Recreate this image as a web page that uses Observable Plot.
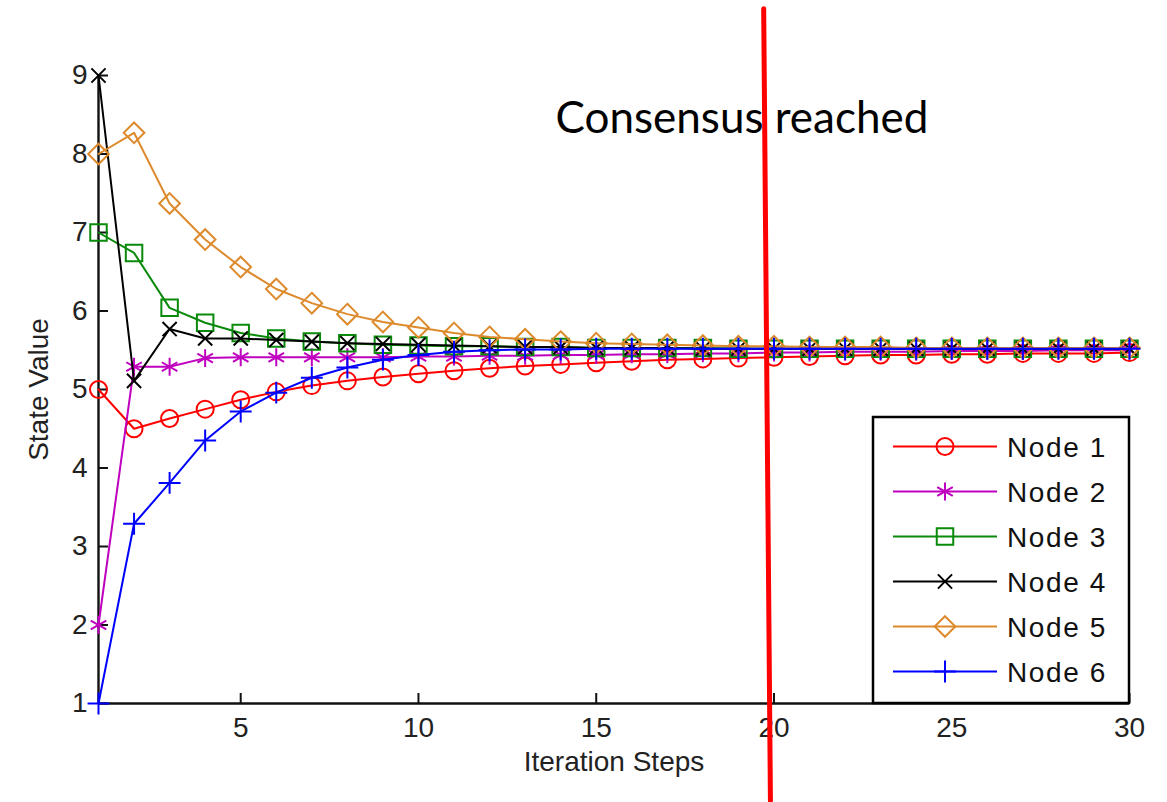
<!DOCTYPE html>
<html>
<head>
<meta charset="utf-8">
<script src="https://cdn.jsdelivr.net/npm/d3@7"></script>
<script src="https://cdn.jsdelivr.net/npm/@observablehq/plot@0.6"></script>
<style>
html, body { margin: 0; padding: 0; background: #fff; }
#wrap { position: relative; width: 1167px; height: 802px; overflow: hidden; }
</style>
</head>
<body>
<div id="wrap"></div>
<script>
// ---------------- data ----------------
const iterations = [1,2,3,4,5,6,7,8,9,10,11,12,13,14,15,16,17,18,19,20,21,22,23,24,25,26,27,28,29,30];
const node1 = [5.00,4.50,4.63,4.75,4.87,4.97,5.05,5.11,5.16,5.20,5.24,5.27,5.30,5.32,5.34,5.36,5.38,5.39,5.40,5.41,5.42,5.43,5.44,5.44,5.45,5.45,5.46,5.46,5.46,5.47];
const node2 = [2.00,5.29,5.29,5.40,5.41,5.41,5.41,5.41,5.41,5.42,5.42,5.43,5.43,5.44,5.44,5.45,5.45,5.46,5.46,5.47,5.47,5.48,5.48,5.48,5.49,5.49,5.49,5.50,5.50,5.50];
const node3 = [7.00,6.74,6.04,5.85,5.72,5.65,5.61,5.59,5.57,5.56,5.55,5.55,5.54,5.54,5.53,5.53,5.53,5.53,5.52,5.52,5.52,5.52,5.52,5.52,5.52,5.52,5.52,5.52,5.52,5.52];
const node4 = [9.00,5.11,5.77,5.65,5.65,5.63,5.61,5.59,5.58,5.57,5.56,5.55,5.54,5.54,5.53,5.53,5.53,5.52,5.52,5.52,5.52,5.52,5.52,5.52,5.52,5.52,5.52,5.52,5.52,5.52];
const node5 = [8.00,8.27,7.37,6.91,6.56,6.28,6.10,5.96,5.86,5.79,5.72,5.67,5.64,5.61,5.59,5.58,5.57,5.56,5.55,5.55,5.54,5.54,5.54,5.53,5.53,5.53,5.53,5.53,5.53,5.53];
const node6 = [1.00,3.29,3.81,4.35,4.72,4.96,5.15,5.28,5.38,5.44,5.48,5.50,5.51,5.51,5.52,5.52,5.52,5.52,5.52,5.52,5.52,5.52,5.52,5.52,5.52,5.52,5.52,5.52,5.52,5.52];

const seriesNames = ["Node 1","Node 2","Node 3","Node 4","Node 5","Node 6"];
const seriesValues = [node1, node2, node3, node4, node5, node6];
const seriesColors = ["#ff0000","#bf00bf","#0a8a0a","#000000","#dd8a2c","#0000ff"];
const seriesSymbols = ["circle","asterisk","square2","times","diamond2","plus"];
const d3Symbols = [d3.symbolCircle, d3.symbolAsterisk, d3.symbolSquare2, d3.symbolTimes, d3.symbolDiamond2, d3.symbolPlus];
const seriesRadius = [8.5, 8.5, 10.5, 6.5, 9.3, 7.1];

const xTicks = [5,10,15,20,25,30];
const yTicks = [1,2,3,4,5,6,7,8,9];
const xDomain = [1,30];
const yDomain = [1,9];
const xLabel = "Iteration Steps";
const yLabel = "State Value";

// annotation: hand-drawn red marker line and its label (data coordinates)
const consensusLineX = [19.71, 19.90];
const consensusLineY = [9.85, -0.24];
const consensusText = ["Consensus reached"];
const consensusTextX = [19.10];
const consensusTextY = [8.27];

// ---------------- layout ----------------
const W = 1167, H = 802, mL = 98, mR = 38, mT = 75, mB = 99;
const frameW = W - mL - mR, frameH = H - mT - mB, tickLen = 10;

// ---------------- build ----------------
const rows = [];
seriesNames.forEach((name, i) => {
  iterations.forEach((it, j) => rows.push({node: name, idx: i, x: it, y: seriesValues[i][j]}));
});

const marks = [
  Plot.ruleX([xDomain[0]], {stroke: "#111", strokeWidth: 2.4}),
  Plot.ruleY([yDomain[0]], {stroke: "#111", strokeWidth: 2.4}),
  // inward MATLAB-style ticks
  Plot.ruleX(xTicks, {insetTop: frameH - tickLen, stroke: "#111", strokeWidth: 2}),
  Plot.ruleY(yTicks, {insetRight: frameW - tickLen, stroke: "#111", strokeWidth: 2}),
  Plot.axisX({ticks: xTicks, tickSize: 0, tickPadding: 14, label: null, fontSize: 28}),
  Plot.axisY({ticks: yTicks, tickSize: 0, tickPadding: 11, label: null, fontSize: 28}),
  Plot.text([yLabel], {frameAnchor: "left", dx: -59, rotate: -90, text: d => d, fontSize: 28, fill: "#222", textAnchor: "middle", lineAnchor: "middle"}),
  Plot.text([xLabel], {frameAnchor: "bottom", dy: 59, text: d => d, fontSize: 28, fill: "#222", letterSpacing: "1.8px", textAnchor: "middle", lineAnchor: "middle"})
];

seriesNames.forEach((name, i) => {
  const data = rows.filter(r => r.idx === i);
  marks.push(Plot.line(data, {x: "x", y: "y", stroke: seriesColors[i], strokeWidth: 2}));
  marks.push(Plot.dot(data, {x: "x", y: "y", symbol: () => seriesSymbols[i], r: seriesRadius[i], stroke: seriesColors[i], fill: "none", strokeWidth: 2}));
});

marks.push(Plot.text(consensusText, {x: (d, i) => consensusTextX[i], y: (d, i) => consensusTextY[i], text: d => d,
  fontFamily: "Lato", fontSize: 44, textAnchor: "middle", lineAnchor: "bottom", fill: "#000"}));
marks.push(Plot.line(consensusLineX.map((x, i) => ({x, y: consensusLineY[i]})), {x: "x", y: "y", stroke: "#ff0000", strokeWidth: 5}));

const chart = Plot.plot({
  width: W,
  height: H,
  marginLeft: mL,
  marginRight: mR,
  marginTop: mT,
  marginBottom: mB,
  x: {domain: xDomain},
  y: {domain: yDomain},
  symbol: {type: "identity"},
  style: {fontFamily: "'Liberation Sans', Arial, sans-serif", fontSize: "28px", color: "#222", background: "#fff"},
  marks
});
document.getElementById("wrap").appendChild(chart);

// ---------------- legend (overlay) ----------------
const lg = d3.select("#wrap").append("svg")
  .attr("width", W).attr("height", H)
  .style("position", "absolute").style("left", "0px").style("top", "0px");
lg.append("rect").attr("x", 873).attr("y", 417).attr("width", 256).attr("height", 286)
  .attr("fill", "#fff").attr("stroke", "#000").attr("stroke-width", 2.5);
seriesNames.forEach((name, i) => {
  const cy = 446.5 + i * 45;
  const g = lg.append("g");
  g.append("line").attr("x1", 893).attr("x2", 997).attr("y1", cy).attr("y2", cy)
    .attr("stroke", seriesColors[i]).attr("stroke-width", 2);
  g.append("path").attr("transform", `translate(945,${cy})`)
    .attr("d", d3.symbol(d3Symbols[i], Math.PI * seriesRadius[i] * seriesRadius[i])())
    .attr("fill", "none").attr("stroke", seriesColors[i]).attr("stroke-width", 2);
  g.append("text").attr("x", 1007).attr("y", cy).attr("dy", "0.36em")
    .attr("font-family", "'Liberation Sans', Arial, sans-serif").attr("font-size", 28)
    .attr("letter-spacing", "1.6px").attr("fill", "#111").text(name);
});
</script>
</body>
</html>
